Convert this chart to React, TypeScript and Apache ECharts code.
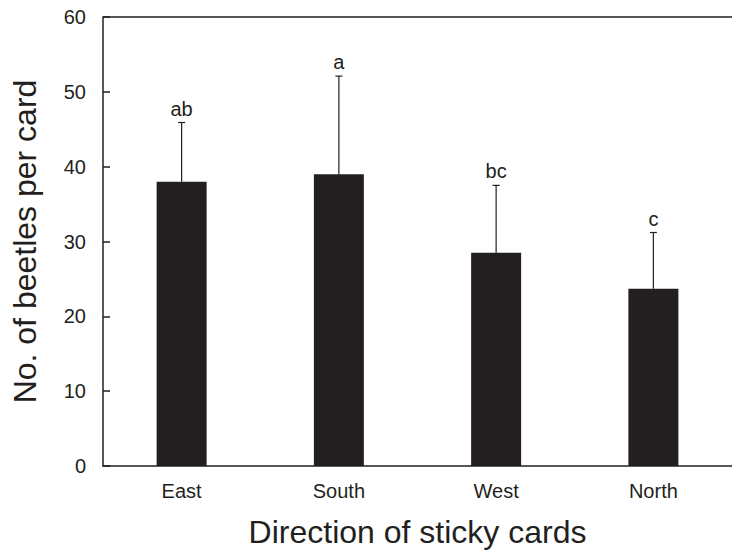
import React, { useEffect, useRef } from "react";
import * as echarts from "echarts";

const categories = ["East", "South", "West", "North"];
const means = [38.0, 39.0, 28.5, 23.7];
const upperErrors = [45.9, 52.1, 37.5, 31.2];
const letters = ["ab", "a", "bc", "c"];
const yTicks = [0, 10, 20, 30, 40, 50, 60];

const ink = "#231f20";
const font = "Liberation Sans, Arial, sans-serif";

export default function App() {
  const ref = useRef<HTMLDivElement>(null);
  useEffect(() => {
    if (!ref.current) return;
    const chart = echarts.init(ref.current, null, { renderer: "svg" });
    chart.setOption({
      animation: false,
      grid: { left: 103, top: 17, width: 638, height: 452, containLabel: false },
      xAxis: {
        type: "category",
        data: categories,
        name: "Direction of sticky cards",
        nameLocation: "middle",
        nameGap: 50,
        nameTextStyle: { fontSize: 32, color: ink, fontFamily: font },
        axisLine: { lineStyle: { color: ink, width: 1.5 } },
        axisTick: { show: false },
        axisLabel: { fontSize: 20, color: ink, fontFamily: font, margin: 15 },
      },
      yAxis: {
        type: "value",
        min: yTicks[0],
        max: yTicks[yTicks.length - 1],
        interval: 10,
        name: "No. of beetles per card",
        nameLocation: "middle",
        nameRotate: 90,
        nameGap: 62,
        nameTextStyle: { fontSize: 32, color: ink, fontFamily: font },
        axisLine: { show: true, lineStyle: { color: ink, width: 1.5 } },
        axisTick: { show: true, inside: true, length: 7, lineStyle: { color: ink, width: 1.5 } },
        axisLabel: { fontSize: 20, color: ink, fontFamily: font, margin: 17 },
        splitLine: { show: false },
      },
      graphic: [
        {
          type: "line",
          shape: { x1: 103, y1: 17, x2: 732, y2: 17 },
          style: { stroke: ink, lineWidth: 1.5 },
        },
      ],
      series: [
        {
          type: "bar",
          data: means,
          barWidth: 50,
          itemStyle: { color: ink },
        },
        {
          type: "custom",
          data: categories.map((_, i) => [i, means[i], upperErrors[i]]),
          renderItem: (params: any, api: any) => {
            const i = api.value(0);
            const base = api.coord([i, api.value(1)]);
            const top = api.coord([i, api.value(2)]);
            const cap = 3.5;
            return {
              type: "group",
              children: [
                {
                  type: "line",
                  shape: { x1: base[0], y1: base[1], x2: top[0], y2: top[1] },
                  style: { stroke: ink, lineWidth: 1.2 },
                },
                {
                  type: "line",
                  shape: { x1: top[0] - cap, y1: top[1], x2: top[0] + cap, y2: top[1] },
                  style: { stroke: ink, lineWidth: 1.2 },
                },
                {
                  type: "text",
                  x: top[0],
                  y: top[1] - 4,
                  style: {
                    text: letters[params.dataIndex],
                    fontSize: 20,
                    fill: ink,
                    fontFamily: font,
                    align: "center",
                    verticalAlign: "bottom",
                  },
                },
              ],
            };
          },
        },
      ],
    });
    return () => chart.dispose();
  }, []);
  return <div ref={ref} style={{ width: 732, height: 553, position: "absolute", left: 0, top: 0 }} />;
}
